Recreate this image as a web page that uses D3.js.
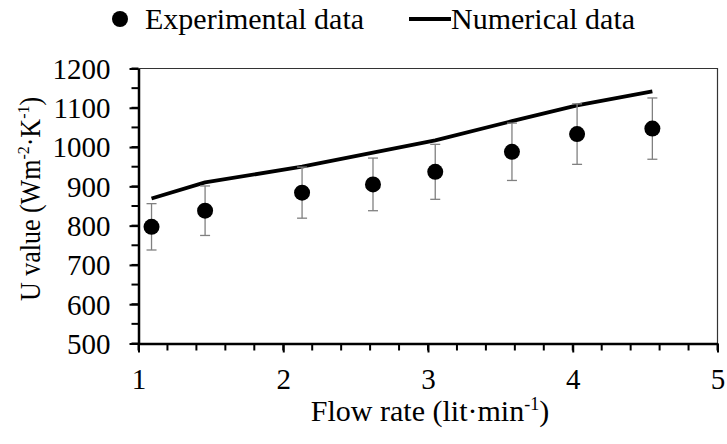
<!DOCTYPE html>
<html>
<head>
<meta charset="utf-8">
<script src="https://cdn.jsdelivr.net/npm/d3@7"></script>
<style>
  html, body { margin: 0; padding: 0; background: #fff; }
  svg text { font-family: "Liberation Serif", "Times New Roman", serif; fill: #000; }
</style>
</head>
<body>
<svg id="chart" width="727" height="444"></svg>
<script>
// Flow rate (lit/min) at each measurement
const flowRate = [1.09, 1.46, 2.13, 2.62, 3.05, 3.58, 4.03, 4.55];
// Measured overall heat transfer coefficient (W/m2K)
const experimental = [797, 838, 884, 905, 937, 988, 1033, 1047];
// Half-length of each error bar
const errorBar = [59, 63, 65, 67, 70, 73, 77, 78];
// Simulated coefficient
const numerical = [869, 910, 950, 986, 1017, 1066, 1106, 1142];

const xTicks = [1, 2, 3, 4, 5];
const yTicks = [500, 600, 700, 800, 900, 1000, 1100, 1200];

const svg = d3.select("#chart");
const plotLeft = 138.5, plotRight = 717.5, plotTop = 68.5, plotBottom = 343.5;

const x = d3.scaleLinear().domain([1, 5]).range([plotLeft, plotRight]);
const y = d3.scaleLinear().domain([500, 1200]).range([plotBottom, plotTop]);

// frame: thin top and right edges
svg.append("path")
  .attr("d", `M${plotLeft},${plotTop}H${plotRight}V${plotBottom}`)
  .attr("fill", "none").attr("stroke", "#333").attr("stroke-width", 1.2);

// minor ticks
const xMinor = d3.range(1, 5.0001, 0.2);
svg.append("g").selectAll("line").data(xMinor).join("line")
  .attr("x1", d => x(d)).attr("x2", d => x(d))
  .attr("y1", plotBottom).attr("y2", plotBottom + 7)
  .attr("stroke", "#000").attr("stroke-width", 2);
const yMinor = d3.range(500, 1200.001, 50);
svg.append("g").selectAll("line").data(yMinor).join("line")
  .attr("x1", plotLeft - 7).attr("x2", plotLeft)
  .attr("y1", d => y(d)).attr("y2", d => y(d))
  .attr("stroke", "#000").attr("stroke-width", 2);

// axes
const xAxis = svg.append("g").attr("transform", `translate(0,${plotBottom})`)
  .call(d3.axisBottom(x).tickValues(xTicks).tickFormat(d3.format("d"))
    .tickSize(9).tickSizeOuter(0).tickPadding(17));
const yAxis = svg.append("g").attr("transform", `translate(${plotLeft},0)`)
  .call(d3.axisLeft(y).tickValues(yTicks).tickFormat(d3.format("d"))
    .tickSize(9).tickSizeOuter(0).tickPadding(19));
[xAxis, yAxis].forEach(g => {
  g.attr("font-family", null).attr("font-size", null);
  g.select(".domain").attr("stroke", "#000").attr("stroke-width", 2.5);
  g.selectAll(".tick line").attr("stroke", "#000").attr("stroke-width", 2);
  g.selectAll(".tick text").style("font-size", "29px");
});
yAxis.selectAll(".tick text").attr("dy", "0.34em");
xAxis.selectAll(".tick text").attr("dy", "0.68em");

// numerical curve
svg.append("path")
  .datum(flowRate.map((f, i) => [f, numerical[i]]))
  .attr("fill", "none").attr("stroke", "#000").attr("stroke-width", 3.8)
  .attr("stroke-linejoin", "round")
  .attr("d", d3.line().x(d => x(d[0])).y(d => y(d[1])));

// error bars
const eb = svg.append("g").attr("stroke", "#808080").attr("stroke-width", 1.3);
flowRate.forEach((f, i) => {
  const cx = x(f), hi = y(experimental[i] + errorBar[i]), lo = y(experimental[i] - errorBar[i]);
  eb.append("line").attr("x1", cx).attr("x2", cx).attr("y1", hi).attr("y2", lo);
  eb.append("line").attr("x1", cx - 5).attr("x2", cx + 5).attr("y1", hi).attr("y2", hi);
  eb.append("line").attr("x1", cx - 5).attr("x2", cx + 5).attr("y1", lo).attr("y2", lo);
});

// experimental points
svg.append("g").selectAll("circle").data(flowRate).join("circle")
  .attr("cx", d => x(d)).attr("cy", (d, i) => y(experimental[i]))
  .attr("r", 8).attr("fill", "#000");

// axis titles
const xt = svg.append("text").attr("x", 430).attr("y", 421)
  .attr("text-anchor", "middle").style("font-size", "30px");
xt.append("tspan").text("Flow rate (lit·min");
xt.append("tspan").style("font-size", "18px").attr("dy", -11).text("-1");
xt.append("tspan").attr("dy", 11).text(")");

const yt = svg.append("text").attr("transform", "translate(40,199) scale(1.1,1) rotate(-90)")
  .attr("text-anchor", "middle").style("font-size", "26px");
yt.append("tspan").text("U value (Wm");
yt.append("tspan").style("font-size", "16px").attr("dy", -10).text("-2");
yt.append("tspan").attr("dy", 10).text("·K");
yt.append("tspan").style("font-size", "16px").attr("dy", -10).text("-1");
yt.append("tspan").attr("dy", 10).text(")");

// legend
const lg = svg.append("g");
lg.append("circle").attr("cx", 120).attr("cy", 19).attr("r", 8).attr("fill", "#000");
lg.append("text").attr("x", 145).attr("y", 29).style("font-size", "30px").text("Experimental data");
lg.append("line").attr("x1", 409).attr("x2", 451).attr("y1", 19).attr("y2", 19)
  .attr("stroke", "#000").attr("stroke-width", 3.8);
lg.append("text").attr("x", 451).attr("y", 29).style("font-size", "30px").text("Numerical data");
</script>
</body>
</html>
